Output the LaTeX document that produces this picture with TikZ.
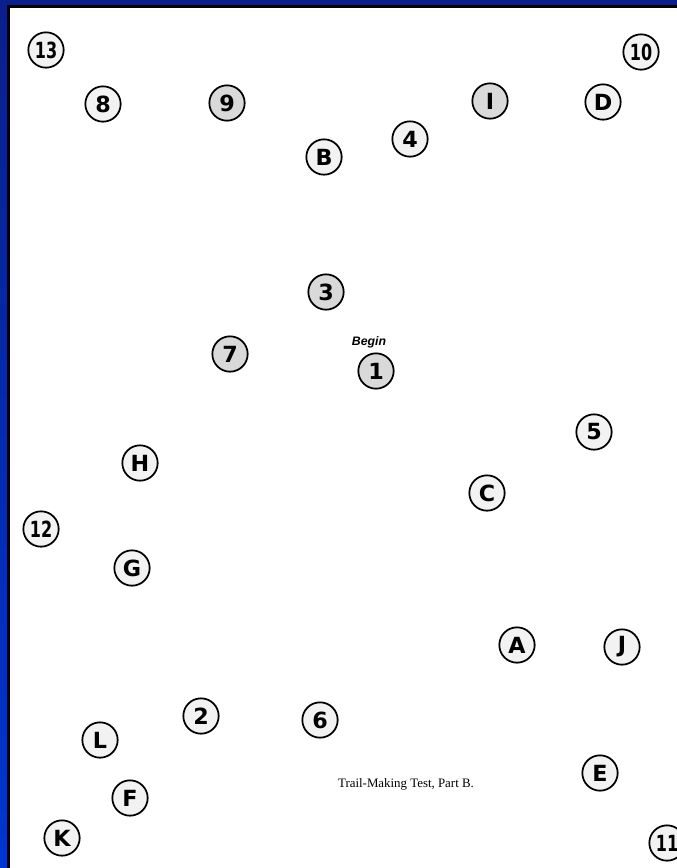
\documentclass[tikz,border=0pt]{standalone}
\usepackage{fontspec}
\setmainfont{Liberation Serif}
\newfontfamily\trailfont{DejaVu Sans}
\newfontfamily\trailnarrow{DejaVu Sans}[FakeStretch=0.72]
\newfontfamily\beginfont{Liberation Sans}
\definecolor{frametop}{HTML}{0A1F8C}
\definecolor{framebot}{HTML}{0036D0}
\definecolor{paleface}{HTML}{F2F2F2}
\definecolor{greyface}{HTML}{D9D9D9}
\begin{document}
\begin{tikzpicture}[
  x=0.03cm, y=-0.03cm,
  trail/.style={circle, draw, line width=1.5pt, fill=paleface, inner sep=0pt,
    minimum size=1.06cm, font=\trailfont\bfseries\fontsize{19}{19}\selectfont},
  shaded/.style={trail, fill=greyface},
  twodigit/.style={trail, font=\trailnarrow\bfseries\fontsize{19}{19}\selectfont}
]
\useasboundingbox (0,0) rectangle (677,868);
\clip (0,0) rectangle (677,868);
% frame and paper
\shade[top color=frametop, bottom color=framebot] (0,0) rectangle (677,868);
\fill[black] (7,5) rectangle (677,868);
\fill[white] (10,8) rectangle (677,868);

% numbers
\node[twodigit] (n13) at (46,50) {13};
\node[twodigit] (n10) at (641,52) {10};
\node[trail] (n8) at (103,104) {8};
\node[shaded] (n9) at (227,103) {9};
\node[trail] (n4) at (410,139) {4};
\node[shaded] (n3) at (326,292) {3};
\node[shaded] (n7) at (230,354) {7};
\node[shaded] (n1) at (376,371) {1};
\node[trail] (n5) at (594,432) {5};
\node[twodigit] (n12) at (41,529) {12};
\node[trail] (n2) at (201,716) {2};
\node[trail] (n6) at (320,720) {6};
\node[twodigit] (n11) at (667,843) {11};

% letters
\node[shaded] (lI) at (490,101) {I};
\node[trail] (lD) at (603,102) {D};
\node[trail] (lB) at (324,157) {B};
\node[trail] (lH) at (140,463) {H};
\node[trail] (lC) at (487,493) {C};
\node[trail] (lG) at (132,568) {G};
\node[trail] (lA) at (517,645) {A};
\node[trail] (lJ) at (622,647) {J};
\node[trail] (lL) at (100,740) {L};
\node[trail] (lE) at (600,773) {E};
\node[trail] (lF) at (130,798) {F};
\node[trail] (lK) at (62,838) {K};

\node[font=\beginfont\bfseries\itshape\fontsize{10.5}{10.5}\selectfont] (start) at (369,342) {Begin};
\node[font=\fontsize{11}{11}\selectfont] (title) at (406,784) {Trail-Making Test, Part B.};
\end{tikzpicture}
\end{document}
